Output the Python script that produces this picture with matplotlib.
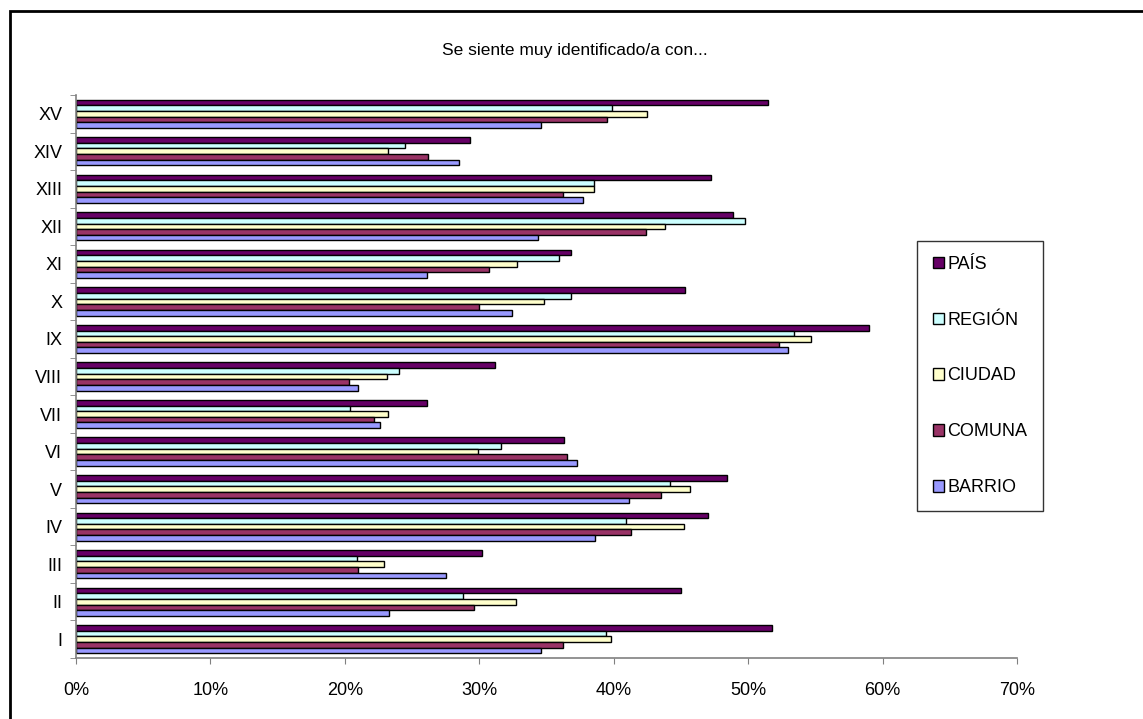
import matplotlib
matplotlib.use("Agg")
import matplotlib.pyplot as plt
import matplotlib.patches as patches
from matplotlib.ticker import FuncFormatter
import numpy as np

plt.rcParams['font.family'] = ['Liberation Sans', 'DejaVu Sans']

regiones = ["I", "II", "III", "IV", "V", "VI", "VII", "VIII",
            "IX", "X", "XI", "XII", "XIII", "XIV", "XV"]

# porcentaje que se siente muy identificado/a, por region (I..XV)
pais = [51.8, 45.0, 30.2, 47.0, 48.4, 36.3, 26.1, 31.2, 59.0, 45.3, 36.8, 48.9, 47.2, 29.3, 51.5]
region = [39.4, 28.8, 20.9, 40.9, 44.2, 31.6, 20.4, 24.0, 53.4, 36.8, 35.9, 49.8, 38.5, 24.5, 39.9]
ciudad = [39.8, 32.7, 22.9, 45.2, 45.7, 29.9, 23.2, 23.1, 54.7, 34.8, 32.8, 43.8, 38.5, 23.2, 42.5]
comuna = [36.2, 29.6, 21.0, 41.3, 43.5, 36.5, 22.2, 20.3, 52.3, 30.0, 30.7, 42.4, 36.2, 26.2, 39.5]
barrio = [34.6, 23.3, 27.5, 38.6, 41.1, 37.3, 22.6, 21.0, 53.0, 32.4, 26.1, 34.4, 37.7, 28.5, 34.6]

series = [("PAÍS", pais, "#660066"),
          ("REGIÓN", region, "#CCFFFF"),
          ("CIUDAD", ciudad, "#FFFFCC"),
          ("COMUNA", comuna, "#993366"),
          ("BARRIO", barrio, "#9999FF")]

fig = plt.figure(figsize=(11.43, 7.19), dpi=100)
ax = fig.add_axes([76/1143, 1 - 658/719, 941/1143, 563/719])

y = np.arange(len(regiones))
h = 0.75 / len(series)
bars = []
for k, (name, vals, col) in enumerate(series):
    off = 0.375 - h * (k + 0.5)
    b = ax.barh(y + off, np.array(vals) / 100.0, height=h, color=col,
                edgecolor="black", linewidth=1.0, label=name)
    bars.append(b)

ax.set_xlim(0, 0.7)
ax.set_ylim(-0.5, len(regiones) - 0.5)
ax.set_xticks(np.arange(0, 0.71, 0.1))
ax.xaxis.set_major_formatter(FuncFormatter(lambda v, p: "{0:.0f}%".format(v * 100)))
ax.set_yticks(y)
ax.set_yticklabels(regiones)
ax.set_yticks(np.arange(-0.5, len(regiones), 1.0), minor=True)

for s in ["top", "right"]:
    ax.spines[s].set_visible(False)
for s in ["left", "bottom"]:
    ax.spines[s].set_color("#808080")
    ax.spines[s].set_linewidth(1.2)

ax.tick_params(axis="x", length=4, color="#808080", labelsize=13, pad=13)
ax.tick_params(axis="y", which="major", length=0, labelsize=13, pad=10)
ax.tick_params(axis="y", which="minor", length=4, color="#808080")

fig.text(575/1143, 1 - 50/719, "Se siente muy identificado/a con...",
         ha="center", va="center", fontsize=12.5)

leg = fig.legend(handles=bars, loc="center",
                 bbox_to_anchor=(980/1143, 1 - 376/719),
                 fontsize=13, frameon=True, fancybox=False,
                 handlelength=0.6, handleheight=0.6, handletextpad=0.2,
                 labelspacing=2.15, borderpad=0.85, borderaxespad=0)
leg.get_frame().set_edgecolor("black")
leg.get_frame().set_linewidth(1.0)

# marco exterior del grafico
fig.patches.append(patches.Rectangle((10/1143, -0.1), 1.2, 1.1 - 11/719,
                                     transform=fig.transFigure, fill=False,
                                     edgecolor="black", linewidth=2.0))

fig.savefig("out.png", dpi=100)
